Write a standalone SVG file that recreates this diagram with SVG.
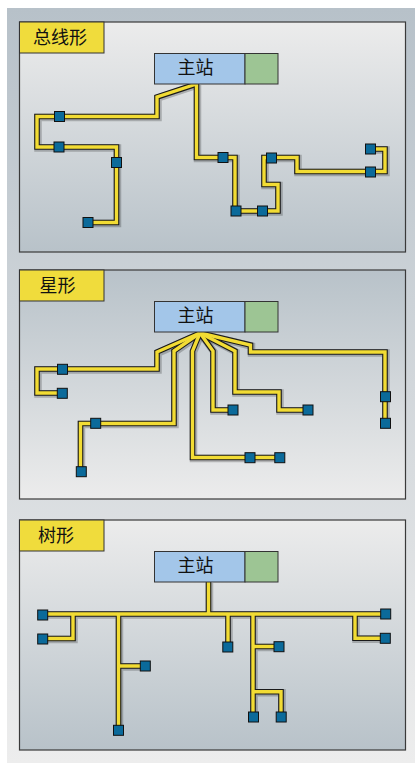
<svg xmlns="http://www.w3.org/2000/svg" xmlns:xlink="http://www.w3.org/1999/xlink" width="415" height="763" viewBox="0 0 415 763">
<defs>
<linearGradient id="gOuter" x1="0" y1="0" x2="0" y2="1"><stop offset="0" stop-color="#b7c1c9"/><stop offset="1" stop-color="#ededed"/></linearGradient>
<linearGradient id="gDown" x1="0" y1="0" x2="0" y2="1"><stop offset="0" stop-color="#ececec"/><stop offset="1" stop-color="#b8c2c9"/></linearGradient>
<linearGradient id="gUp" x1="0" y1="0" x2="0" y2="1"><stop offset="0" stop-color="#b8c2c9"/><stop offset="1" stop-color="#ececec"/></linearGradient>
<path id="w1" d="M196.5,84 L157,97 L157,116.5 L37,116.5 L37,147 L116.5,147 L116.5,222.5 L88,222.5"/>
<path id="w2" d="M196.5,84 L196.5,157.5 L235,157.5 L235,211 L278,211 L278,184.5 L264,184.5 L264,157.5 L297,157.5 L297,171.5 L385,171.5 L385,149 L370,149"/>
<path id="w3" d="M200,333 L157,352 L157,369 L37,369 L37,393 L62,393"/>
<path id="w4" d="M200,333 L174,351 L174,423.5 L80.5,423.5 L80.5,471.5"/>
<path id="w5" d="M200,333 L192.5,351 L192.5,457.5 L280,457.5"/>
<path id="w6" d="M200,333 L213,351 L213,410 L233,410"/>
<path id="w7" d="M200,333 L235,351 L235,392 L279,392 L279,410 L308,410"/>
<path id="w8" d="M200,333 L250.5,345 L250.5,352 L385,352 L385,423.5"/>
<path id="w9" d="M208.5,582 L208.5,614 M42,614 L386,614 M73,614 L73,638.5 L42,638.5 M118.5,614 L118.5,730 M118.5,666 L145,666 M228,614 L228,647 M253,614 L253,717 M253,646.5 L279,646.5 M253,691.7 L281,691.7 L281,717 M355,614 L355,638.3 L385,638.3"/>
</defs>
<style>
.panel{stroke:#3a3a3a;stroke-width:1.2}
.label{fill:#f0dc3c;stroke:#333;stroke-width:1}
.txt{font-family:'Liberation Sans','Noto Sans CJK SC',sans-serif;font-size:18px;fill:#111}
.host{fill:#a3c6e9;stroke:#333;stroke-width:1}
.aux{fill:#9dc594;stroke:#333;stroke-width:1}
.sh{fill:none;stroke:#000;stroke-opacity:0.22;stroke-width:7.5;stroke-linejoin:miter}
.ol{fill:none;stroke:#1a1a1a;stroke-width:5.6;stroke-linejoin:miter}
.fl{fill:none;stroke:#f2dc34;stroke-width:3.4;stroke-linejoin:miter}
.nd rect{fill:#0b6a9a;stroke:#111;stroke-width:1}
.nds{fill:#000;opacity:0.2}
</style>
<rect x="7" y="8" width="408" height="755" fill="url(#gOuter)"/>
<g id="panel-bus">
<rect class="panel" x="19.5" y="22" width="386" height="230" fill="url(#gDown)"/>
<rect class="label" x="19.5" y="22" width="84.5" height="31"/>
<text class="txt" x="60" y="43.5" text-anchor="middle">总线形</text>
</g>
<g id="panel-star">
<rect class="panel" x="19.5" y="270" width="386" height="229" fill="url(#gUp)"/>
<rect class="label" x="19.5" y="270" width="84.5" height="31"/>
<text class="txt" x="57.5" y="291.5" text-anchor="middle">星形</text>
</g>
<g id="panel-tree">
<rect class="panel" x="19.5" y="520" width="386" height="230" fill="url(#gDown)"/>
<rect class="label" x="19.5" y="520" width="84.5" height="31"/>
<text class="txt" x="56" y="541.5" text-anchor="middle">树形</text>
</g>
<g id="connectors">
<g transform="translate(1,1)">
<use href="#w1" class="sh"/><use href="#w2" class="sh"/><use href="#w3" class="sh"/><use href="#w4" class="sh"/><use href="#w5" class="sh"/><use href="#w6" class="sh"/><use href="#w7" class="sh"/><use href="#w8" class="sh"/><use href="#w9" class="sh"/>
</g>
<use href="#w1" class="ol"/><use href="#w2" class="ol"/><use href="#w3" class="ol"/><use href="#w4" class="ol"/><use href="#w5" class="ol"/><use href="#w6" class="ol"/><use href="#w7" class="ol"/><use href="#w8" class="ol"/><use href="#w9" class="ol"/>
<use href="#w1" class="fl"/><use href="#w2" class="fl"/><use href="#w3" class="fl"/><use href="#w4" class="fl"/><use href="#w5" class="fl"/><use href="#w6" class="fl"/><use href="#w7" class="fl"/><use href="#w8" class="fl"/><use href="#w9" class="fl"/>
</g>
<g id="host-bus"><rect class="host" x="154.5" y="53.5" width="90.5" height="30.5"/><rect class="aux" x="245" y="53.5" width="33" height="30.5"/><text class="txt" x="195.5" y="73.5" text-anchor="middle">主站</text></g>
<g id="host-star"><rect class="host" x="154.5" y="301.5" width="90.5" height="30.5"/><rect class="aux" x="245" y="301.5" width="33" height="30.5"/><text class="txt" x="195.5" y="321.5" text-anchor="middle">主站</text></g>
<g id="host-tree"><rect class="host" x="154.5" y="551.5" width="90.5" height="30.5"/><rect class="aux" x="245" y="551.5" width="33" height="30.5"/><text class="txt" x="195.5" y="571.5" text-anchor="middle">主站</text></g>
<g id="bus-n1" class="nd"><rect x="54.5" y="111.5" width="10" height="10"/></g>
<g id="bus-n2" class="nd"><rect x="54" y="142" width="10" height="10"/></g>
<g id="bus-n3" class="nd"><rect x="111.5" y="157.5" width="10" height="10"/></g>
<g id="bus-n4" class="nd"><rect x="83" y="217.5" width="10" height="10"/></g>
<g id="bus-n5" class="nd"><rect x="218" y="152.5" width="10" height="10"/></g>
<g id="bus-n6" class="nd"><rect x="231" y="206" width="10" height="10"/></g>
<g id="bus-n7" class="nd"><rect x="257.5" y="206" width="10" height="10"/></g>
<g id="bus-n8" class="nd"><rect x="266.5" y="153" width="10" height="10"/></g>
<g id="bus-n9" class="nd"><rect x="365.5" y="167" width="10" height="10"/></g>
<g id="bus-n10" class="nd"><rect x="365.5" y="144" width="10" height="10"/></g>
<g id="star-n1" class="nd"><rect x="57.5" y="364.3" width="10" height="10"/></g>
<g id="star-n2" class="nd"><rect x="57.3" y="388.3" width="10" height="10"/></g>
<g id="star-n3" class="nd"><rect x="90.7" y="418.3" width="10" height="10"/></g>
<g id="star-n4" class="nd"><rect x="76.3" y="466.7" width="10" height="10"/></g>
<g id="star-n5" class="nd"><rect x="245" y="452.7" width="10" height="10"/></g>
<g id="star-n6" class="nd"><rect x="274.8" y="452.7" width="10" height="10"/></g>
<g id="star-n7" class="nd"><rect x="228" y="405" width="10" height="10"/></g>
<g id="star-n8" class="nd"><rect x="303" y="405" width="10" height="10"/></g>
<g id="star-n9" class="nd"><rect x="380.5" y="391.7" width="10" height="10"/></g>
<g id="star-n10" class="nd"><rect x="380.5" y="418.3" width="10" height="10"/></g>
<g id="tree-n1" class="nd"><rect x="37.7" y="610" width="10" height="10"/></g>
<g id="tree-n2" class="nd"><rect x="380.7" y="609" width="10" height="10"/></g>
<g id="tree-n3" class="nd"><rect x="37.7" y="634" width="10" height="10"/></g>
<g id="tree-n4" class="nd"><rect x="113.5" y="725.3" width="10" height="10"/></g>
<g id="tree-n5" class="nd"><rect x="140.3" y="661" width="10" height="10"/></g>
<g id="tree-n6" class="nd"><rect x="222.8" y="642" width="10" height="10"/></g>
<g id="tree-n7" class="nd"><rect x="248.5" y="712" width="10" height="10"/></g>
<g id="tree-n8" class="nd"><rect x="274" y="641.7" width="10" height="10"/></g>
<g id="tree-n9" class="nd"><rect x="276.2" y="712" width="10" height="10"/></g>
<g id="tree-n10" class="nd"><rect x="380.3" y="633.3" width="10" height="10"/></g>
</svg>
